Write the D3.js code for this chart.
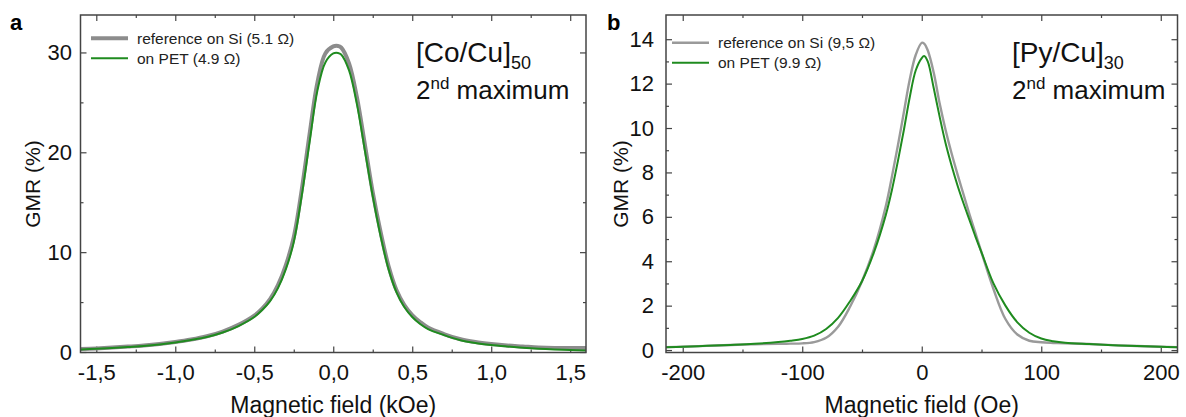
<!doctype html>
<html lang="en">
<head>
<meta charset="utf-8">
<title>GMR curves</title>
<script src="https://cdn.jsdelivr.net/npm/d3@7"></script>
<style>
  body { margin: 0; background: #fff; }
  svg { display: block; font-family: Arial, "Liberation Sans", sans-serif; }
  .tick line { stroke: #444; stroke-width: 1.2; }
  .tick text { fill: #111; font-size: 22px; }
</style>
</head>
<body>
<svg id="chart" width="1186" height="417"></svg>
<script>
  //
  // Data
  //

  // panel a : [Co/Cu]50, field in kOe
  var fieldA = [-1.6, -1.5, -1.4, -1.3, -1.2, -1.1, -1.0, -0.9, -0.8, -0.7, -0.6, -0.5, -0.45, -0.4, -0.35,
    -0.3, -0.25, -0.2, -0.15, -0.1, -0.05, 0, 0.03, 0.05, 0.1, 0.15, 0.2, 0.25, 0.3, 0.35, 0.4, 0.45,
    0.5, 0.55, 0.6, 0.7, 0.8, 0.9, 1.0, 1.1, 1.2, 1.3, 1.4, 1.5, 1.6]
  var siA = [0.30, 0.36, 0.44, 0.54, 0.65, 0.80, 1.00, 1.25, 1.58, 2.05, 2.72, 3.65, 4.35, 5.30, 6.70,
    8.70, 11.5, 16.2, 21.8, 27.0, 29.9, 30.6, 30.65, 30.5, 28.9, 25.5, 20.8, 16.0, 12.0, 8.6, 6.2, 4.7,
    3.7, 3.0, 2.45, 1.8, 1.3, 1.0, 0.8, 0.65, 0.55, 0.45, 0.40, 0.40, 0.40]
  var petA = [0.25, 0.32, 0.40, 0.50, 0.60, 0.75, 0.95, 1.20, 1.50, 1.95, 2.60, 3.50, 4.20, 5.10, 6.40,
    8.30, 11.0, 15.6, 21.0, 26.2, 29.0, 29.9, 29.95, 29.8, 28.2, 24.8, 20.2, 15.6, 11.6, 8.3, 6.0, 4.5,
    3.5, 2.8, 2.3, 1.7, 1.2, 0.9, 0.7, 0.55, 0.42, 0.32, 0.25, 0.2, 0.15]
  var xTicksA = [-1.5, -1, -0.5, 0, 0.5, 1, 1.5]
  var xLabelsA = ['-1,5', '-1,0', '-0,5', '0,0', '0,5', '1,0', '1,5']
  var xMinorA = [-1.25, -0.75, -0.25, 0.25, 0.75, 1.25]
  var yTicksA = [0, 10, 20, 30]
  var yMinorA = [5, 15, 25]

  // panel b : [Py/Cu]30, field in Oe
  var fieldB = [-214, -200, -180, -160, -140, -120, -110, -100, -90, -80, -70, -60, -50, -40, -30, -25,
    -20, -15, -10, -5, 0, 2, 5, 10, 15, 20, 25, 30, 35, 40, 45, 50, 60, 70, 80, 90, 100, 110, 120, 140,
    160, 180, 200, 214]
  var siB = [0.13, 0.15, 0.19, 0.23, 0.26, 0.28, 0.29, 0.30, 0.36, 0.55, 1.05, 1.95, 3.1, 4.55, 6.5, 7.8,
    9.2, 10.7, 12.2, 13.3, 13.84, 13.8, 13.5, 12.5, 11.1, 9.9, 8.85, 7.9, 7.0, 6.1, 5.25, 4.4, 2.75, 1.4,
    0.7, 0.42, 0.35, 0.32, 0.30, 0.27, 0.22, 0.18, 0.15, 0.13]
  var petB = [0.13, 0.15, 0.19, 0.23, 0.28, 0.36, 0.42, 0.50, 0.65, 0.95, 1.45, 2.2, 3.1, 4.4, 6.1, 7.2,
    8.5, 9.9, 11.4, 12.6, 13.15, 13.24, 13.0, 11.8, 10.5, 9.3, 8.3, 7.4, 6.6, 5.85, 5.1, 4.4, 3.0, 2.0,
    1.25, 0.78, 0.52, 0.40, 0.33, 0.27, 0.22, 0.18, 0.15, 0.13]
  var xTicksB = [-200, -100, 0, 100, 200]
  var xMinorB = [-150, -50, 50, 150]
  var yTicksB = [0, 2, 4, 6, 8, 10, 12, 14]
  var yMinorB = [1, 3, 5, 7, 9, 11, 13]

  //
  // Drawing
  //

  var svg = d3.select('#chart')
  var colorGreen = '#1f8b1f'

  function panel(o) {
    var x = d3.scaleLinear().domain(o.xDomain).range([o.left, o.right])
    var y = d3.scaleLinear().domain(o.yDomain).range([o.bottom, o.top])
    var g = svg.append('g')

    // ticks, all pointing inward
    function ax(axis, tr, vals, size, fmt) {
      var a = axis.tickValues(vals).tickSizeInner(-size).tickSizeOuter(0)
      a.tickFormat(fmt || '')
      var sel = g.append('g').attr('transform', tr).call(a)
      sel.select('.domain').remove()
      return sel
    }
    ax(d3.axisBottom(x).tickPadding(o.xPad), 'translate(0,' + o.bottom + ')', o.xTicks, 6,
      function (d, i) { return o.xLabels[i] })
    ax(d3.axisBottom(x), 'translate(0,' + o.bottom + ')', o.xMinor, 3)
    ax(d3.axisTop(x), 'translate(0,' + o.top + ')', o.xTicks, 6)
    ax(d3.axisTop(x), 'translate(0,' + o.top + ')', o.xMinor, 3)
    ax(d3.axisLeft(y).tickPadding(o.yPad), 'translate(' + o.left + ',0)', o.yTicks, 6, d3.format('d'))
    ax(d3.axisLeft(y), 'translate(' + o.left + ',0)', o.yMinor, 3)
    ax(d3.axisRight(y), 'translate(' + o.right + ',0)', o.yTicks, 6)
    ax(d3.axisRight(y), 'translate(' + o.right + ',0)', o.yMinor, 3)

    var clipId = 'clip' + o.name
    svg.append('clipPath').attr('id', clipId).append('rect')
      .attr('x', o.left).attr('y', o.top)
      .attr('width', o.right - o.left).attr('height', o.bottom - o.top)

    var line = d3.line()
      .x(function (d) { return x(d[0]) })
      .y(function (d) { return y(d[1]) })
      .curve(d3.curveCatmullRom.alpha(0.5))

    g.append('path').datum(d3.zip(o.field, o.si))
      .attr('d', line).attr('clip-path', 'url(#' + clipId + ')')
      .attr('fill', 'none').attr('stroke', o.grey).attr('stroke-width', o.greyWidth)
    g.append('path').datum(d3.zip(o.field, o.pet))
      .attr('d', line).attr('clip-path', 'url(#' + clipId + ')')
      .attr('fill', 'none').attr('stroke', colorGreen).attr('stroke-width', 2)

    // frame
    g.append('rect')
      .attr('x', o.left).attr('y', o.top)
      .attr('width', o.right - o.left).attr('height', o.bottom - o.top)
      .attr('fill', 'none').attr('stroke', '#444').attr('stroke-width', 1.5)

    // axis titles
    g.append('text').attr('x', (o.left + o.right) / 2).attr('y', 413)
      .attr('text-anchor', 'middle').attr('font-size', 23).attr('fill', '#111')
      .text(o.xTitle)
    g.append('text')
      .attr('transform', 'translate(' + o.yTitleX + ',184) rotate(-90)')
      .attr('text-anchor', 'middle').attr('font-size', 21).attr('fill', '#111')
      .text('GMR (%)')

    // panel letter
    g.append('text').attr('x', o.letterX).attr('y', 30)
      .attr('font-size', 22).attr('font-weight', 'bold').text(o.name)

    // legend
    var lg = g.append('g')
    lg.append('line').attr('x1', o.legX).attr('x2', o.legX + 37)
      .attr('y1', o.legY).attr('y2', o.legY)
      .attr('stroke', o.grey).attr('stroke-width', o.greyWidth)
    lg.append('line').attr('x1', o.legX).attr('x2', o.legX + 37)
      .attr('y1', o.legY + 20).attr('y2', o.legY + 20)
      .attr('stroke', colorGreen).attr('stroke-width', 2)
    lg.append('text').attr('x', o.legX + 46).attr('y', o.legY + 5.5)
      .attr('font-size', 15.5).attr('fill', '#222').text(o.legend[0])
    lg.append('text').attr('x', o.legX + 46).attr('y', o.legY + 25.5)
      .attr('font-size', 15.5).attr('fill', '#222').text(o.legend[1])

    // sample label
    var t1 = g.append('text').attr('x', o.noteX).attr('y', 62).attr('font-size', 28).attr('fill', '#111')
    t1.append('tspan').text(o.sample)
    t1.append('tspan').attr('font-size', 18).attr('dy', 7).text(o.repeats)
    var t2 = g.append('text').attr('x', o.noteX).attr('y', 99).attr('font-size', 26).attr('fill', '#111')
    t2.append('tspan').text('2')
    t2.append('tspan').attr('font-size', 17).attr('dy', -10).text('nd')
    t2.append('tspan').attr('dy', 10).text(' maximum')
  }

  panel({
    name: 'a', left: 80.5, right: 586, top: 15, bottom: 352.5,
    xDomain: [-1.6, 1.6], yDomain: [-0.05, 33.75],
    field: fieldA, si: siA, pet: petA,
    xTicks: xTicksA, xLabels: xLabelsA, xMinor: xMinorA, yTicks: yTicksA, yMinor: yMinorA,
    xPad: 12, yPad: 8.5, grey: '#8c8c8c', greyWidth: 4,
    xTitle: 'Magnetic field (kOe)', yTitleX: 40, letterX: 10,
    legX: 91, legY: 38.3, legend: ['reference on Si (5.1 \u03A9)', 'on PET (4.9 \u03A9)'],
    noteX: 416, sample: '[Co/Cu]', repeats: '50'
  })

  panel({
    name: 'b', left: 666, right: 1177.5, top: 15, bottom: 352.5,
    xDomain: [-214, 214], yDomain: [-0.11, 15.09],
    field: fieldB, si: siB, pet: petB,
    xTicks: xTicksB, xLabels: xTicksB.map(String), xMinor: xMinorB, yTicks: yTicksB, yMinor: yMinorB,
    xPad: 12, yPad: 12, grey: '#9a9a9a', greyWidth: 2.4,
    xTitle: 'Magnetic field (Oe)', yTitleX: 628, letterX: 607,
    legX: 672, legY: 42.7, legend: ['reference on Si (9,5 \u03A9)', 'on PET (9.9 \u03A9)'],
    noteX: 1012, sample: '[Py/Cu]', repeats: '30'
  })
</script>
</body>
</html>
